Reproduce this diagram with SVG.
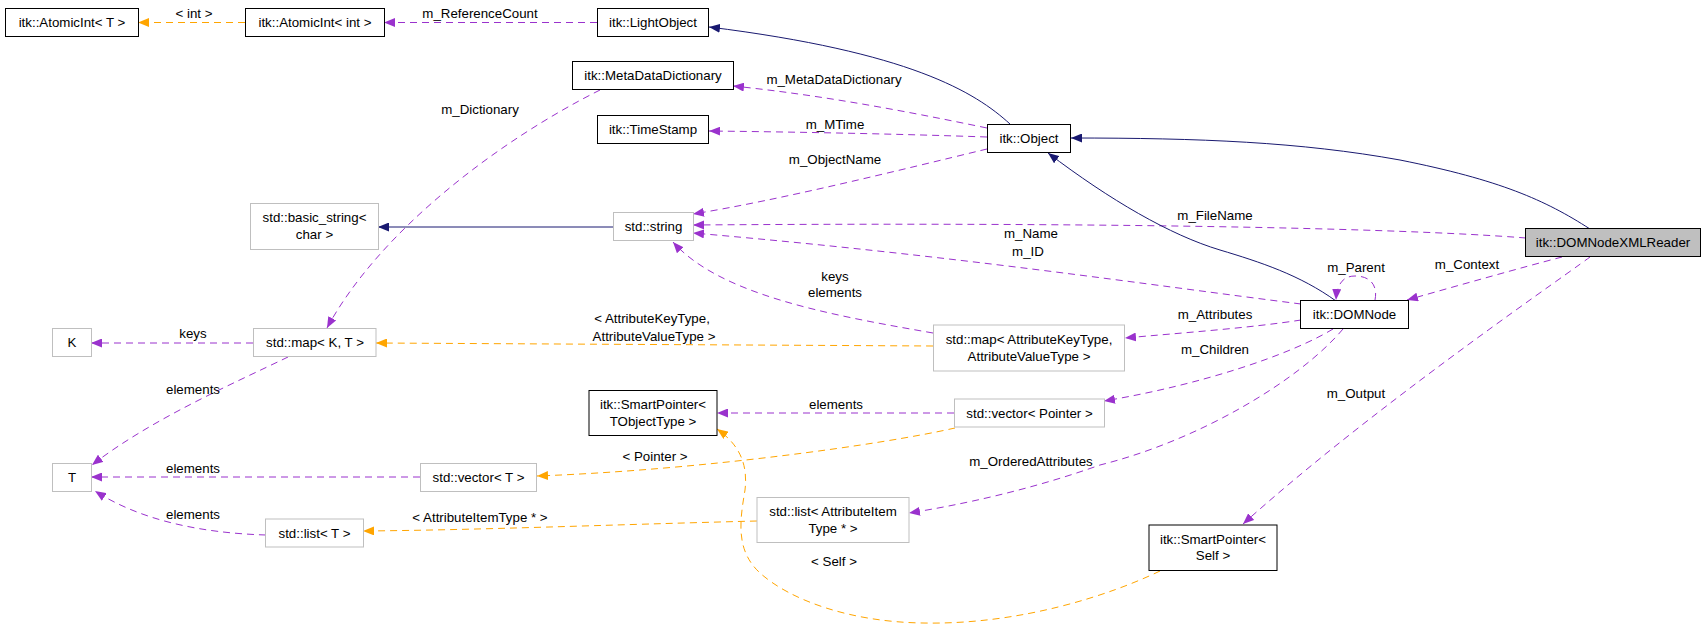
<svg xmlns="http://www.w3.org/2000/svg" width="1707" height="629" viewBox="0 0 1707 629">
<style>
text{font-family:"Liberation Sans",Arial,sans-serif;font-size:13.3px;fill:#000;text-anchor:middle;dominant-baseline:central}
.n{fill:#fff;stroke:#000;stroke-width:1}
.u{fill:#fff;stroke:#bfbfbf;stroke-width:1}
.g{fill:#bfbfbf;stroke:#000;stroke-width:1}
.e{fill:none;stroke-width:1}
.p{stroke:#9a32cd;stroke-dasharray:7,5;marker-end:url(#ap)}
.o{stroke:#ffa500;stroke-dasharray:7,5;marker-end:url(#ao)}
.b{stroke:#191970;marker-end:url(#ab)}
</style>
<defs>
<marker id="ap" markerUnits="userSpaceOnUse" markerWidth="12" markerHeight="9" refX="11" refY="4.5" orient="auto"><path d="M0,0 L11,4.5 L0,9 z" fill="#9a32cd"/></marker>
<marker id="ao" markerUnits="userSpaceOnUse" markerWidth="12" markerHeight="9" refX="11" refY="4.5" orient="auto"><path d="M0,0 L11,4.5 L0,9 z" fill="#ffa500"/></marker>
<marker id="ab" markerUnits="userSpaceOnUse" markerWidth="12" markerHeight="9" refX="11" refY="4.5" orient="auto"><path d="M0,0 L11,4.5 L0,9 z" fill="#191970"/></marker>
</defs>
<rect width="1707" height="629" fill="#fff"/>
<g id="edges">
<path class="e o" d="M245,22.5 L138,22.5"/>
<text x="194" y="13">&lt; int &gt;</text>
<path class="e p" d="M597,22.5 L384,22.5"/>
<text x="480" y="13">m_ReferenceCount</text>
<path class="e b" d="M1010,124 C975,92 910,52 709,27"/>
<path class="e p" d="M987,128 C900,110 820,95 733,86"/>
<text x="834" y="79">m_MetaDataDictionary</text>
<path class="e p" d="M987,137 C900,134 800,132 709,131"/>
<text x="835" y="124">m_MTime</text>
<path class="e p" d="M987,149 C900,170 780,200 693,214"/>
<text x="835" y="159">m_ObjectName</text>
<path class="e p" d="M600,90 C500,140 380,230 327,328"/>
<text x="480" y="109">m_Dictionary</text>
<path class="e b" d="M613,227 L378,227"/>
<path class="e b" d="M1590,229 C1545,200 1500,180 1400,160 C1300,142 1200,138 1071,138"/>
<path class="e p" d="M1526,238 C1400,228 1100,222 693,225"/>
<text x="1215" y="215">m_FileName</text>
<path class="e p" d="M1301,304 C1150,285 950,255 693,233"/>
<text x="1031" y="233">m_Name</text>
<text x="1028" y="251">m_ID</text>
<path class="e b" d="M1336,301 C1300,275 1260,262 1220,250 C1170,235 1110,200 1048,153"/>
<path class="e p" d="M1375,300 C1378,285 1370,276 1355,276 C1343,276 1337,284 1336,300"/>
<text x="1356" y="267">m_Parent</text>
<path class="e p" d="M1562,257 C1520,268 1460,285 1407,300"/>
<text x="1467" y="264">m_Context</text>
<path class="e p" d="M1301,320 C1250,328 1180,333 1125,338"/>
<text x="1215" y="314">m_Attributes</text>
<path class="e p" d="M1333,329 C1290,355 1200,385 1104,401"/>
<text x="1215" y="349">m_Children</text>
<path class="e p" d="M1343,329 C1300,380 1200,440 1100,465 C1030,490 960,505 909,513"/>
<text x="1031" y="461">m_OrderedAttributes</text>
<path class="e p" d="M1590,257 C1545,290 1370,410 1243,524"/>
<text x="1356" y="393">m_Output</text>
<path class="e p" d="M933,333 C830,315 720,295 673,242"/>
<text x="835" y="276">keys</text>
<text x="835" y="292">elements</text>
<path class="e o" d="M933,346 C750,345 550,344 376,343"/>
<text x="652" y="318">&lt; AttributeKeyType,</text>
<text x="654" y="336">AttributeValueType &gt;</text>
<path class="e p" d="M253,343 L91,343"/>
<text x="193" y="333">keys</text>
<path class="e p" d="M288,357 C230,385 150,420 92,465"/>
<text x="193" y="389">elements</text>
<path class="e p" d="M420,477 L91,477"/>
<text x="193" y="468">elements</text>
<path class="e p" d="M266,535 C200,533 140,520 95,491"/>
<text x="193" y="514">elements</text>
<path class="e o" d="M955,428 C880,445 700,470 537,476"/>
<text x="655" y="456">&lt; Pointer &gt;</text>
<path class="e p" d="M954,413 L717,413"/>
<text x="836" y="404">elements</text>
<path class="e o" d="M757,521 C600,525 480,530 363,531"/>
<text x="480" y="517">&lt; AttributeItemType * &gt;</text>
<path class="e o" d="M1160,571 C1110,595 1020,625 923,623 C850,622 790,600 760,573 C735,550 740,520 745,490 C748,465 740,445 717,429"/>
<text x="834" y="561">&lt; Self &gt;</text>
</g>
<g id="n_atomicT"><rect class="n" x="5.5" y="8.5" width="133" height="28"/><text x="72" y="22.5">itk::AtomicInt&lt; T &gt;</text></g>
<g id="n_atomicInt"><rect class="n" x="245.5" y="8.5" width="139" height="28"/><text x="315" y="22.5">itk::AtomicInt&lt; int &gt;</text></g>
<g id="n_lightObject"><rect class="n" x="597.5" y="8.5" width="111" height="28"/><text x="653" y="22.5">itk::LightObject</text></g>
<g id="n_metaData"><rect class="n" x="572.5" y="61.5" width="161" height="28"/><text x="653" y="75.5">itk::MetaDataDictionary</text></g>
<g id="n_timeStamp"><rect class="n" x="597.5" y="115.5" width="111" height="28"/><text x="653" y="129.5">itk::TimeStamp</text></g>
<g id="n_object"><rect class="n" x="987.5" y="124.5" width="83" height="28"/><text x="1029" y="138.5">itk::Object</text></g>
<g id="n_reader"><rect class="g" x="1525.5" y="228.5" width="175" height="28"/><text x="1613" y="242.5">itk::DOMNodeXMLReader</text></g>
<g id="n_basicString"><rect class="u" x="250.5" y="203.5" width="128" height="46"/><text x="314.5" y="217">std::basic_string&lt;</text><text x="314.5" y="234.5">char &gt;</text></g>
<g id="n_string"><rect class="u" x="613.5" y="212.5" width="80" height="28"/><text x="653.5" y="226.5">std::string</text></g>
<g id="n_K"><rect class="u" x="52.5" y="328.5" width="39" height="28"/><text x="72" y="342.5">K</text></g>
<g id="n_mapKT"><rect class="u" x="253.5" y="328.5" width="122.5" height="28"/><text x="315" y="342.5">std::map&lt; K, T &gt;</text></g>
<g id="n_mapAttr"><rect class="u" x="933.5" y="325" width="191" height="46"/><text x="1029" y="339">std::map&lt; AttributeKeyType,</text><text x="1029" y="356">AttributeValueType &gt;</text></g>
<g id="n_domNode"><rect class="n" x="1300.5" y="300.5" width="108" height="28"/><text x="1354.5" y="314.5">itk::DOMNode</text></g>
<g id="n_spTObject"><rect class="n" x="589" y="390.5" width="128" height="45"/><text x="653" y="404">itk::SmartPointer&lt;</text><text x="653" y="421">TObjectType &gt;</text></g>
<g id="n_vecPointer"><rect class="u" x="954.5" y="399" width="150" height="28"/><text x="1029.5" y="413">std::vector&lt; Pointer &gt;</text></g>
<g id="n_T"><rect class="u" x="52.5" y="463.5" width="39" height="28"/><text x="72" y="477.5">T</text></g>
<g id="n_vecT"><rect class="u" x="420.5" y="463.5" width="116" height="28"/><text x="478.5" y="477.5">std::vector&lt; T &gt;</text></g>
<g id="n_listAttr"><rect class="u" x="757" y="497.5" width="152" height="45"/><text x="833" y="511">std::list&lt; AttributeItem</text><text x="833" y="528">Type * &gt;</text></g>
<g id="n_listT"><rect class="u" x="265.5" y="519" width="98" height="28"/><text x="314.5" y="533">std::list&lt; T &gt;</text></g>
<g id="n_spSelf"><rect class="n" x="1149" y="525" width="128" height="45.5"/><text x="1213" y="539">itk::SmartPointer&lt;</text><text x="1213" y="555.5">Self &gt;</text></g>
</svg>
